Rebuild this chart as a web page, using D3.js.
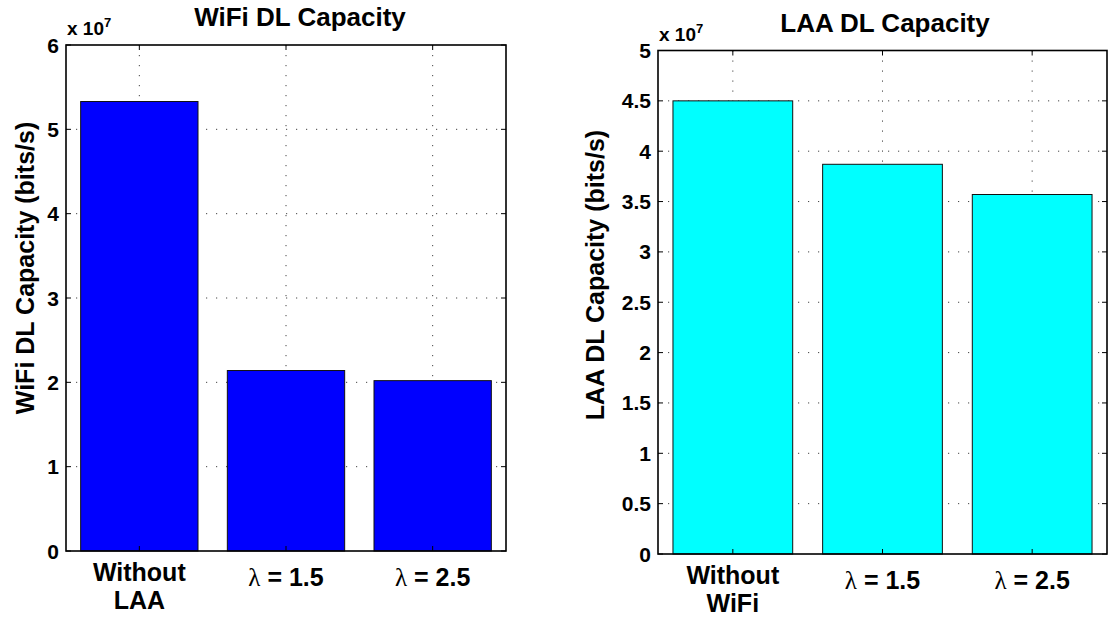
<!DOCTYPE html>
<html>
<head>
<meta charset="utf-8">
<script src="https://cdn.jsdelivr.net/npm/d3@7"></script>
<style>
  html, body { margin: 0; padding: 0; background: #fff; }
  svg text { font-family: "Liberation Sans", Arial, Helvetica, sans-serif; font-weight: bold; fill: #000; }
</style>
</head>
<body>
<svg id="chart" width="1108" height="620"></svg>
<script>
// Downlink capacity (bits/s) for each coexistence scenario
const wifiCategories = [["Without", "LAA"], ["λ", "= 1.5"], ["λ", "= 2.5"]];
const wifiValues = [5.33e7, 2.14e7, 2.02e7];
const wifiTicks = [0, 1, 2, 3, 4, 5, 6];

const laaCategories = [["Without", "WiFi"], ["λ", "= 1.5"], ["λ", "= 2.5"]];
const laaValues = [4.50e7, 3.87e7, 3.57e7];
const laaTicks = [0, 0.5, 1, 1.5, 2, 2.5, 3, 3.5, 4, 4.5, 5];

const exponent = 1e7;

const svg = d3.select("#chart");

function drawPanel(cfg) {
  const { left, right, top, bottom, categories, values, ticks, color, title, ylabel } = cfg;
  const g = svg.append("g");

  const x = d3.scaleLinear().domain([0.5, categories.length + 0.5]).range([left, right]);
  const y = d3.scaleLinear().domain([0, d3.max(ticks) * exponent]).range([bottom, top]);
  const idx = d3.range(1, categories.length + 1);

  // dotted grid behind the bars
  const grid = g.append("g").attr("stroke", "#444").attr("stroke-width", 1)
    .attr("stroke-dasharray", "1.2,8.8").attr("fill", "none");
  grid.selectAll("line.h").data(ticks.slice(1, -1)).join("line")
    .attr("x1", left).attr("x2", right)
    .attr("y1", d => y(d * exponent)).attr("y2", d => y(d * exponent));
  grid.selectAll("line.v").data(idx).join("line")
    .attr("x1", d => x(d)).attr("x2", d => x(d))
    .attr("y1", top).attr("y2", bottom);

  // bars
  const bw = x(0.8) - x(0);
  g.selectAll("rect.bar").data(values).join("rect")
    .attr("class", "bar")
    .attr("x", (d, i) => x(i + 1) - bw / 2)
    .attr("width", bw)
    .attr("y", d => y(d))
    .attr("height", d => bottom - y(d))
    .attr("fill", color)
    .attr("stroke", "#111")
    .attr("stroke-width", 1);

  // inward tick marks on all four sides
  const tk = 5;
  const tg = g.append("g").attr("stroke", "#000").attr("stroke-width", 1);
  ticks.forEach(t => {
    const yy = y(t * exponent);
    tg.append("line").attr("x1", left).attr("x2", left + tk).attr("y1", yy).attr("y2", yy);
    tg.append("line").attr("x1", right - tk).attr("x2", right).attr("y1", yy).attr("y2", yy);
  });
  idx.forEach(i => {
    tg.append("line").attr("x1", x(i)).attr("x2", x(i)).attr("y1", bottom).attr("y2", bottom - tk);
    tg.append("line").attr("x1", x(i)).attr("x2", x(i)).attr("y1", top).attr("y2", top + tk);
  });

  // axes box
  g.append("rect")
    .attr("x", left).attr("y", top)
    .attr("width", right - left).attr("height", bottom - top)
    .attr("fill", "none").attr("stroke", "#000").attr("stroke-width", 1.6);

  // y tick labels
  g.selectAll("text.yt").data(ticks).join("text")
    .attr("class", "yt")
    .attr("x", left - 7)
    .attr("y", d => y(d * exponent) + 7.5)
    .attr("text-anchor", "end")
    .attr("font-size", 21)
    .text(d => d3.format("~g")(d));

  // exponent marker
  const ex = g.append("text").attr("x", left + 1).attr("y", top - 10).attr("font-size", 19);
  ex.append("tspan").text("x 10");
  ex.append("tspan").attr("font-size", 13).attr("dy", -8).text("7");

  // x tick labels
  categories.forEach((c, i) => {
    const cx = x(i + 1);
    if (c[0] === "λ") {
      const t = g.append("text").attr("x", cx).attr("y", bottom + 35)
        .attr("text-anchor", "middle").attr("font-size", 25);
      t.append("tspan").attr("font-family", "'Liberation Serif', 'Times New Roman', serif")
        .attr("font-weight", "normal").attr("font-style", "normal").text("λ");
      t.append("tspan").text(" " + c[1]);
    } else {
      g.append("text").attr("x", cx).attr("y", bottom + 30)
        .attr("text-anchor", "middle").attr("font-size", 25).text(c[0]);
      g.append("text").attr("x", cx).attr("y", bottom + 58)
        .attr("text-anchor", "middle").attr("font-size", 25).text(c[1]);
    }
  });

  // title
  g.append("text").attr("x", cfg.titleX).attr("y", top - 19)
    .attr("text-anchor", "middle").attr("font-size", 26).text(title);

  // y-axis label
  g.append("text")
    .attr("transform", `translate(${cfg.ylabelX},${cfg.ylabelY}) rotate(-90)`)
    .attr("text-anchor", "middle").attr("font-size", 25).text(ylabel);
}

drawPanel({
  left: 66, right: 506, top: 45, bottom: 551,
  categories: wifiCategories, values: wifiValues, ticks: wifiTicks,
  color: "#0000ff", title: "WiFi DL Capacity", ylabel: "WiFi DL Capacity (bits/s)",
  titleX: 300, ylabelX: 34, ylabelY: 268
});

drawPanel({
  left: 658, right: 1107, top: 50.5, bottom: 554,
  categories: laaCategories, values: laaValues, ticks: laaTicks,
  color: "#00ffff", title: "LAA DL Capacity", ylabel: "LAA DL Capacity (bits/s)",
  titleX: 885, ylabelX: 604, ylabelY: 275
});
</script>
</body>
</html>
